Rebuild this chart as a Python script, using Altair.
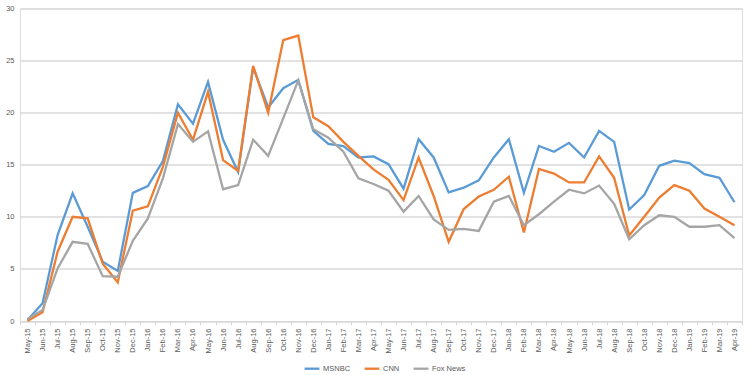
import altair as alt
import pandas as pd

months = ["May-15","Jun-15","Jul-15","Aug-15","Sep-15","Oct-15","Nov-15","Dec-15",
          "Jan-16","Feb-16","Mar-16","Apr-16","May-16","Jun-16","Jul-16","Aug-16","Sep-16","Oct-16","Nov-16","Dec-16",
          "Jan-17","Feb-17","Mar-17","Apr-17","May-17","Jun-17","Jul-17","Aug-17","Sep-17","Oct-17","Nov-17","Dec-17",
          "Jan-18","Feb-18","Mar-18","Apr-18","May-18","Jun-18","Jul-18","Aug-18","Sep-18","Oct-18","Nov-18","Dec-18",
          "Jan-19","Feb-19","Mar-19","Apr-19"]

msnbc = [0.1, 1.7, 8.25, 12.25, 9.05, 5.7, 4.8, 12.3,
         12.95, 15.35, 20.8, 18.95, 22.95, 17.4, 14.3, 24.35, 20.5, 22.35, 23.15, 18.25,
         17.0, 16.8, 15.7, 15.8, 15.05, 12.7, 17.45, 15.7, 12.35, 12.8, 13.5, 15.7,
         17.45, 12.3, 16.8, 16.25, 17.1, 15.7, 18.25, 17.2, 10.7, 12.1, 14.9, 15.4,
         15.15, 14.1, 13.75, 11.4]
cnn = [0.0, 0.83, 6.65, 10.0, 9.85, 5.5, 3.7, 10.6,
       11.0, 14.8, 20.0, 17.4, 22.0, 15.45, 14.4, 24.5, 20.0, 26.95, 27.4, 19.55,
       18.7, 17.2, 15.85, 14.55, 13.55, 11.6, 15.7, 12.0, 7.6, 10.75, 11.95, 12.6,
       13.85, 8.5, 14.6, 14.15, 13.3, 13.3, 15.8, 13.75, 8.2, 10.0, 11.85, 13.05,
       12.5, 10.8, 10.0, 9.2]
fox = [0.2, 1.05, 5.05, 7.6, 7.4, 4.3, 4.25, 7.7,
       9.85, 13.7, 18.9, 17.2, 18.2, 12.65, 13.05, 17.4, 15.85, 19.45, 23.1, 18.4,
       17.6, 16.25, 13.7, 13.15, 12.5, 10.5, 12.0, 9.75, 8.75, 8.85, 8.65, 11.45,
       12.0, 9.2, 10.25, 11.45, 12.6, 12.25, 13.0, 11.25, 7.85, 9.2, 10.15, 10.0,
       9.05, 9.05, 9.2, 7.95]

series = ["MSNBC", "CNN", "Fox News"]
colors = ["#5b9bd5", "#ed7d31", "#a5a5a5"]

rows = []
for name, vals in zip(series, [msnbc, cnn, fox]):
    for m, v in zip(months, vals):
        rows.append({"month": m, "value": v, "network": name})
df = pd.DataFrame(rows)

font = "Liberation Sans"
chart = alt.Chart(df).mark_line(strokeWidth=2.3).encode(
    x=alt.X("month:O", sort=months, bandPosition=0.5,
            scale=alt.Scale(type="band", domain=months, paddingInner=0, paddingOuter=0),
            axis=alt.Axis(title=None, labelAngle=-90, labelFontSize=7.5, labelColor="#595959",
                          labelFont=font, tickBand="extent", domainColor="#d9d9d9",
                          tickColor="#d9d9d9", tickSize=4, labelPadding=3, grid=False,
                          labelBaseline="middle", labelAlign="right")),
    y=alt.Y("value:Q", scale=alt.Scale(domain=[0, 30], nice=False),
            axis=alt.Axis(title=None, values=[0, 5, 10, 15, 20, 25, 30], domain=False, ticks=False,
                          labelFontSize=7.5, labelColor="#595959", labelFont=font,
                          gridColor="#d9d9d9", gridWidth=1.3, labelPadding=6)),
    color=alt.Color("network:N", sort=series,
                    scale=alt.Scale(domain=series, range=colors),
                    legend=alt.Legend(title=None, orient="none", direction="horizontal",
                                      legendX=283, legendY=351, symbolType="stroke",
                                      symbolSize=220, symbolStrokeWidth=2.3,
                                      labelFontSize=7.5, labelColor="#595959", labelFont=font,
                                      columnPadding=8, labelOffset=2)),
    order=alt.value(0),
).properties(
    width=722, height=312.5,
    autosize=alt.AutoSizeParams(type="none"),
    padding={"left": 20, "top": 8.5, "right": 8, "bottom": 54},
).configure_view(stroke=None).configure(background="white")

chart.save("out.html", embed_options={"renderer": "svg", "actions": False})
